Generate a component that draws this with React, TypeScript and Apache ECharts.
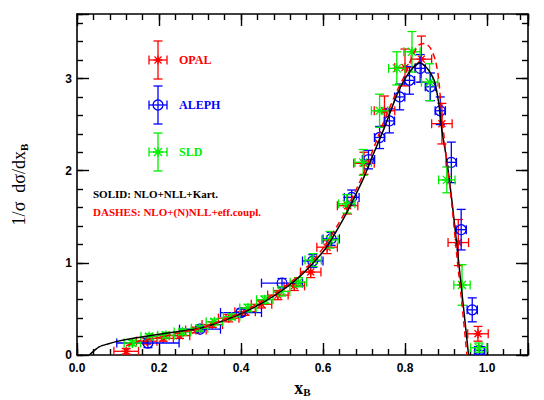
import React, { useEffect, useRef } from "react";
import * as echarts from "echarts";

// ---------- data ----------
const opalX = [0.12, 0.17, 0.21, 0.25, 0.29, 0.33, 0.37, 0.41, 0.45, 0.49, 0.53, 0.57, 0.61, 0.66, 0.70, 0.75, 0.80, 0.84, 0.89, 0.93, 0.978];
const opalY = [0.04, 0.15, 0.18, 0.21, 0.27, 0.33, 0.40, 0.47, 0.55, 0.65, 0.75, 0.90, 1.17, 1.62, 2.08, 2.65, 3.12, 3.21, 2.51, 1.22, 0.23];
const opalDx = [0.03, 0.025, 0.025, 0.025, 0.025, 0.025, 0.025, 0.025, 0.025, 0.025, 0.025, 0.025, 0.025, 0.025, 0.025, 0.025, 0.025, 0.025, 0.025, 0.025, 0.025];
const opalDy = [0.03, 0.03, 0.03, 0.03, 0.03, 0.03, 0.04, 0.04, 0.04, 0.05, 0.05, 0.06, 0.07, 0.09, 0.12, 0.16, 0.20, 0.25, 0.22, 0.25, 0.08];

const alephX = [0.173, 0.30, 0.40, 0.50, 0.575, 0.62, 0.67, 0.711, 0.738, 0.762, 0.787, 0.811, 0.837, 0.862, 0.886, 0.913, 0.937, 0.964, 0.982];
const alephY = [0.13, 0.28, 0.46, 0.78, 1.02, 1.26, 1.71, 2.12, 2.36, 2.54, 2.80, 2.98, 3.11, 2.91, 2.65, 2.09, 1.36, 0.49, 0.05];
const alephDx = [0.076, 0.05, 0.05, 0.05, 0.025, 0.02, 0.018, 0.015, 0.0125, 0.0125, 0.0125, 0.0125, 0.0125, 0.0125, 0.0125, 0.0125, 0.0125, 0.0125, 0.0125];
const alephDy = [0.05, 0.03, 0.04, 0.05, 0.07, 0.07, 0.08, 0.10, 0.12, 0.13, 0.14, 0.15, 0.15, 0.15, 0.15, 0.22, 0.22, 0.13, 0.04];

const sldX = [0.135, 0.176, 0.217, 0.257, 0.299, 0.335, 0.377, 0.417, 0.458, 0.499, 0.54, 0.576, 0.617, 0.658, 0.698, 0.738, 0.780, 0.817, 0.860, 0.902, 0.939, 0.980];
const sldY = [0.13, 0.20, 0.215, 0.25, 0.29, 0.36, 0.415, 0.51, 0.60, 0.69, 0.79, 1.03, 1.25, 1.64, 2.09, 2.65, 3.11, 3.29, 2.96, 1.90, 0.76, 0.08];
const sldDx = [0.02, 0.02, 0.02, 0.02, 0.02, 0.02, 0.02, 0.02, 0.02, 0.02, 0.02, 0.02, 0.02, 0.02, 0.02, 0.02, 0.02, 0.02, 0.02, 0.02, 0.02, 0.02];
const sldDy = [0.03, 0.03, 0.03, 0.03, 0.03, 0.03, 0.03, 0.04, 0.04, 0.05, 0.05, 0.07, 0.09, 0.10, 0.14, 0.18, 0.18, 0.22, 0.20, 0.14, 0.22, 0.05];

// theory curves
const solidX = [0.03, 0.04, 0.055, 0.075, 0.095, 0.135, 0.185, 0.24, 0.30, 0.35, 0.40, 0.45, 0.50, 0.55, 0.60, 0.62, 0.65, 0.67, 0.70, 0.72, 0.75, 0.78, 0.80, 0.82, 0.835, 0.85, 0.862, 0.872, 0.882, 0.89, 0.902, 0.915, 0.927, 0.939, 0.955];
const solidY = [0.0, 0.04, 0.09, 0.12, 0.145, 0.18, 0.215, 0.25, 0.29, 0.36, 0.45, 0.56, 0.70, 0.88, 1.12, 1.25, 1.48, 1.65, 1.93, 2.15, 2.47, 2.82, 3.00, 3.12, 3.17, 3.13, 3.06, 2.97, 2.74, 2.44, 2.11, 1.65, 1.17, 0.67, 0.0];

const dashX = [0.12, 0.15, 0.20, 0.25, 0.30, 0.35, 0.40, 0.45, 0.50, 0.55, 0.60, 0.65, 0.70, 0.75, 0.78, 0.80, 0.817, 0.833, 0.849, 0.862, 0.874, 0.882, 0.887, 0.892, 0.902, 0.915, 0.927, 0.939, 0.951];
const dashY = [0.10, 0.15, 0.19, 0.24, 0.29, 0.37, 0.46, 0.58, 0.72, 0.90, 1.16, 1.52, 1.98, 2.55, 2.86, 3.04, 3.23, 3.36, 3.38, 3.33, 3.20, 3.00, 2.75, 2.50, 2.10, 1.60, 1.05, 0.55, 0.0];

const xTickLabels = ["0.0", "0.2", "0.4", "0.6", "0.8", "1.0"];
const yTickLabels = ["0", "1", "2", "3"];

const legendItems = [
  { name: "OPAL", color: "#ff0000", kind: "opal" },
  { name: "ALEPH", color: "#0000ff", kind: "circle" },
  { name: "SLD", color: "#00ee00", kind: "star" },
];

// ---------- drawing helpers ----------
function markChildren(cx: number, cy: number, xl: number, xr: number, yt: number, yb: number, kind: string, color: string) {
  const cap = 4.5;
  const st = { stroke: color, lineWidth: 1.3, fill: null as any };
  const ln = (x1: number, y1: number, x2: number, y2: number) => ({ type: "line", shape: { x1, y1, x2, y2 }, style: st });
  const ch: any[] = [
    ln(xl, cy, xr, cy),
    ln(xl, cy - cap, xl, cy + cap),
    ln(xr, cy - cap, xr, cy + cap),
    ln(cx, yt, cx, yb),
    ln(cx - cap, yt, cx + cap, yt),
    ln(cx - cap, yb, cx + cap, yb),
  ];
  if (kind === "star" || kind === "opal") {
    const d = kind === "opal" ? 3.5 : 4;
    ch.push(ln(cx - d, cy - d, cx + d, cy + d));
    ch.push(ln(cx - d, cy + d, cx + d, cy - d));
    ch.push(ln(cx, cy - d - 1, cx, cy + d + 1));
    ch.push(ln(cx - d - 1, cy, cx + d + 1, cy));
    if (kind === "opal") {
      ch.push({ type: "rect", shape: { x: cx - 2, y: cy - 2, width: 4, height: 4 }, style: { fill: color } });
    }
  } else if (kind === "circle") {
    ch.push({ type: "circle", shape: { cx, cy, r: 5 }, style: { stroke: color, lineWidth: 1.3, fill: null } });
  }
  return ch;
}

function errData(xs: number[], ys: number[], dxs: number[], dys: number[]) {
  return xs.map((x, i) => [x, ys[i], x - dxs[i], x + dxs[i], ys[i] - dys[i], ys[i] + dys[i]]);
}

function errSeries(name: string, data: number[][], kind: string, color: string) {
  return {
    type: "custom",
    name,
    data,
    encode: { x: 0, y: 1 },
    clip: true,
    renderItem: (params: any, api: any) => {
      const x = api.value(0), y = api.value(1);
      const c = api.coord([x, y]);
      const l = api.coord([api.value(2), y]);
      const r = api.coord([api.value(3), y]);
      const t = api.coord([x, api.value(5)]);
      const b = api.coord([x, api.value(4)]);
      return { type: "group", children: markChildren(c[0], c[1], l[0], r[0], t[1], b[1], kind, color) };
    },
  };
}

const FONT_SANS = "Liberation Sans";
const FONT_SERIF = "Liberation Serif";

function xAxisDef(position: string, interval: number, major: boolean, labels: boolean) {
  return {
    type: "value",
    position,
    min: 0,
    max: 1.1,
    interval,
    axisLine: { show: major, onZero: false, lineStyle: { color: "#000", width: 1.6 } },
    axisTick: { show: true, inside: true, length: major ? 12 : 6, lineStyle: { color: "#000", width: 1.4 } },
    axisLabel: {
      show: labels,
      color: "#000",
      fontFamily: FONT_SANS,
      fontWeight: "bold",
      fontSize: 12,
      margin: 7,
      formatter: (v: number) => {
        const i = Math.round(v / 0.2);
        return Math.abs(v - i * 0.2) < 1e-6 && i < xTickLabels.length ? xTickLabels[i] : "";
      },
    },
    splitLine: { show: false },
    ...(labels
      ? {
          name: "{a|x}{b|B}",
          nameLocation: "middle",
          nameGap: 22,
          nameTextStyle: {
            rich: {
              a: { fontFamily: FONT_SERIF, fontWeight: "bold", fontSize: 18, color: "#000" },
              b: { fontFamily: FONT_SERIF, fontWeight: "bold", fontSize: 11, color: "#000", verticalAlign: "bottom", padding: [9, 0, 0, 0] },
            },
          },
        }
      : {}),
  };
}

function yAxisDef(position: string, interval: number, major: boolean, labels: boolean) {
  return {
    type: "value",
    position,
    min: 0,
    max: 3.7,
    interval,
    axisLine: { show: major, onZero: false, lineStyle: { color: "#000", width: 1.6 } },
    axisTick: { show: true, inside: true, length: major ? 12 : 6, lineStyle: { color: "#000", width: 1.4 } },
    axisLabel: {
      show: labels,
      color: "#000",
      fontFamily: FONT_SANS,
      fontWeight: "bold",
      fontSize: 12,
      margin: 5,
      formatter: (v: number) => {
        const i = Math.round(v);
        return Math.abs(v - i) < 1e-6 && i < yTickLabels.length ? yTickLabels[i] : "";
      },
    },
    splitLine: { show: false },
    ...(labels
      ? {
          name: "{a|1/σ  dσ/dx}{b|B}",
          nameLocation: "middle",
          nameRotate: 90,
          nameGap: 48,
          nameTextStyle: {
            rich: {
              a: { fontFamily: FONT_SERIF, fontSize: 18, color: "#000" },
              b: { fontFamily: FONT_SERIF, fontWeight: "bold", fontSize: 11, color: "#000", verticalAlign: "bottom", padding: [9, 0, 0, 0] },
            },
          },
        }
      : {}),
  };
}

export default function App() {
  const ref = useRef<HTMLDivElement>(null);
  useEffect(() => {
    if (!ref.current) return;
    const chart = echarts.init(ref.current, null, { renderer: "svg" });

    const legendGraphics: any[] = [];
    const legendY = [60, 105, 152];
    legendItems.forEach((it, i) => {
      const cx = 158, cy = legendY[i];
      legendGraphics.push({
        type: "group",
        children: markChildren(cx, cy, cx - 9, cx + 9, cy - 19, cy + 19, it.kind, it.color),
      });
      legendGraphics.push({
        type: "text",
        x: 179,
        y: cy,
        style: { text: it.name, fill: it.color, font: `bold 12px ${FONT_SERIF}`, textVerticalAlign: "middle" },
      });
    });
    legendGraphics.push({
      type: "text",
      x: 93,
      y: 194,
      style: { text: "SOLID: NLO+NLL+Kart.", fill: "#000", font: `bold 11px ${FONT_SERIF}`, textVerticalAlign: "middle" },
    });
    legendGraphics.push({
      type: "text",
      x: 93,
      y: 212,
      style: { text: "DASHES: NLO+(N)NLL+eff.coupl.", fill: "#ff0000", font: `bold 11px ${FONT_SERIF}`, textVerticalAlign: "middle" },
    });

    chart.setOption({
      animation: false,
      backgroundColor: "#fff",
      grid: { left: 77, right: 16, top: 14, bottom: 45, outerBoundsMode: "none", containLabel: false },
      xAxis: [
        xAxisDef("bottom", 0.2, true, true),
        xAxisDef("bottom", 0.04, false, false),
        xAxisDef("top", 0.2, true, false),
        xAxisDef("top", 0.04, false, false),
      ],
      yAxis: [
        yAxisDef("left", 1, true, true),
        yAxisDef("left", 0.2, false, false),
        yAxisDef("right", 1, true, false),
        yAxisDef("right", 0.2, false, false),
      ],
      graphic: legendGraphics,
      series: [
        {
          type: "line",
          name: "solid",
          data: solidX.map((x, i) => [x, solidY[i]]),
          showSymbol: false,
          smooth: 0.25,
          lineStyle: { color: "#000", width: 1.5 },
          z: 3,
        },
        {
          type: "line",
          name: "dashes",
          data: dashX.map((x, i) => [x, dashY[i]]),
          showSymbol: false,
          smooth: 0.25,
          lineStyle: { color: "#ff0000", width: 1.5, type: [6, 4] },
          z: 3,
        },
        errSeries("OPAL", errData(opalX, opalY, opalDx, opalDy), "opal", "#ff0000"),
        errSeries("ALEPH", errData(alephX, alephY, alephDx, alephDy), "circle", "#0000ff"),
        errSeries("SLD", errData(sldX, sldY, sldDx, sldDy), "star", "#00ee00"),
      ],
    });
    return () => chart.dispose();
  }, []);
  return <div ref={ref} style={{ width: 544, height: 400, position: "absolute", left: 0, top: 0 }} />;
}
